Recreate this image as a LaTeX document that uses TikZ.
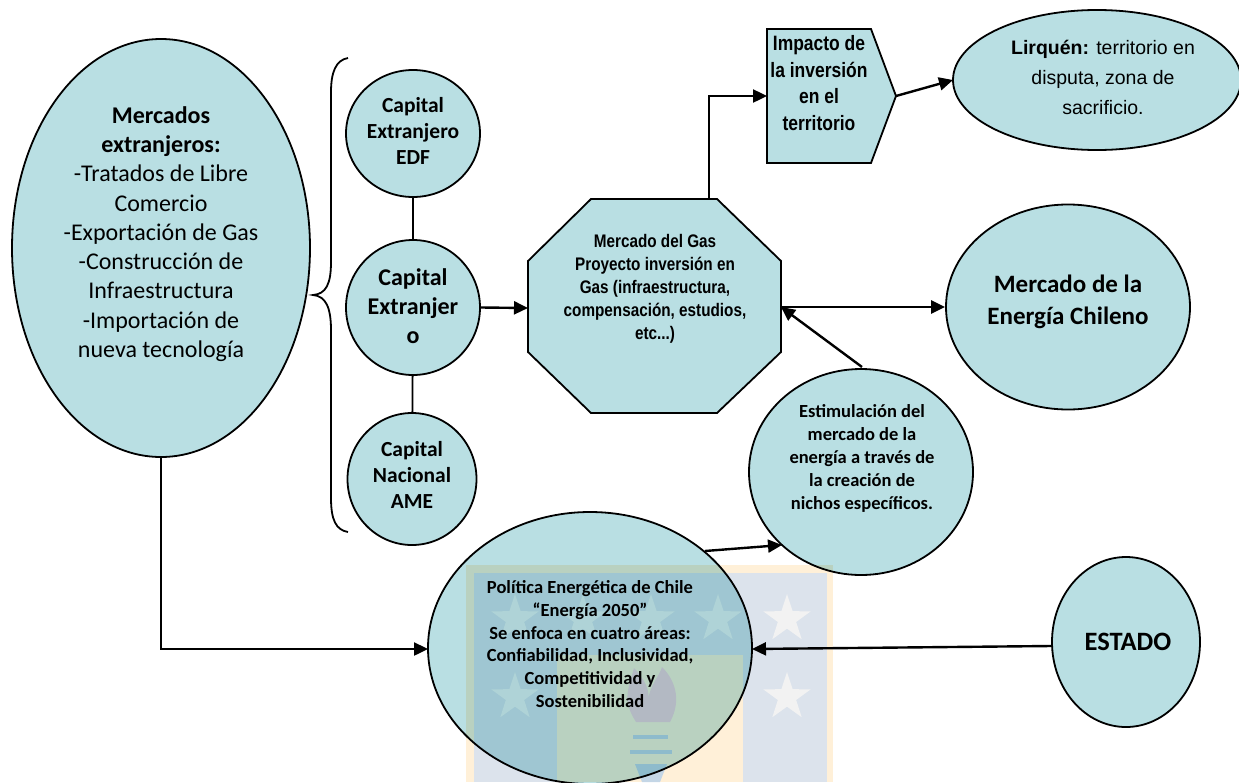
\documentclass[tikz,border=0pt]{standalone}
\usepackage{fontspec}
\usetikzlibrary{shapes.geometric,arrows.meta}
\setmainfont{Carlito}
\newfontfamily\arialn[FakeStretch=0.84]{Liberation Sans}
\newfontfamily\arialf{Liberation Sans}
\definecolor{teal}{HTML}{B9DFE3}
\definecolor{wmframe}{HTML}{FFF0D8}
\definecolor{wmblue}{HTML}{DCE3EC}
\definecolor{wmstar}{HTML}{F2F2F2}
\definecolor{wmflame}{HTML}{F8D4DC}
\definecolor{wmbar}{HTML}{C4D6E6}
\tikzset{
  shapebox/.style={draw=black,fill=teal,line width=1.8pt,ellipse,inner sep=0pt,blend mode=multiply},
  polybox/.style={draw=black,fill=teal,line width=1.8pt,line join=miter},
  txt/.style={align=center,inner sep=0pt,text=black},
  conn/.style={draw=black,line width=2.4pt,-{Triangle[length=14pt,width=13pt]}},
  plain/.style={draw=black,line width=1.8pt},
  wstar/.style={star,star points=5,star point ratio=2.6,fill=wmstar,minimum size=50pt,inner sep=0pt}
}
\newcommand{\elli}[5]{\node[shapebox,minimum width=#4pt,minimum height=#5pt] (#1) at (#2,#3) {};}
\begin{document}
\begin{tikzpicture}[x=1pt,y=-1pt]
\useasboundingbox (0,0) rectangle (1239,782);
\clip (0,0) rectangle (1239,782);
\fill[white] (0,0) rectangle (1239,782);
% watermark
\fill[wmframe] (466,565) rectangle (833,782);
\fill[wmblue] (474,573) rectangle (827,782);
\fill[wmframe] (557,655) rectangle (743,782);
\node[wstar] (s1) at (515,619) {};
\node[wstar] (s2) at (583,619) {};
\node[wstar] (s3) at (651,619) {};
\node[wstar] (s4) at (718,619) {};
\node[wstar] (s5) at (787,619) {};
\node[wstar] (s6) at (515,697) {};
\node[wstar] (s7) at (787,697) {};
\fill[wmflame] (636,722) .. controls (622,700) and (628,690) .. (634,668)
  .. controls (645,680) and (650,690) .. (648,700) .. controls (650,685) and (660,675) .. (662,667)
  .. controls (675,680) and (682,700) .. (670,722) -- cycle;
\fill[wmbar] (633,735) rectangle (668,739);
\fill[wmbar] (630,750) rectangle (672,754);
\fill[wmbar] (635,764) -- (667,764) -- (660,782) -- (642,782) -- cycle;
% shapes
\elli{merc}{161}{248}{298}{418}
\elli{edf}{413}{133.5}{134}{127}
\elli{cap}{413}{307.5}{134}{135}
\elli{ame}{412}{479}{129}{132}
\elli{lir}{1097}{80}{288}{140}
\elli{ene}{1068}{307}{244}{205}
\elli{est}{861}{472}{224}{206}
\elli{pol}{590}{648}{324}{272}
\elli{sta}{1126}{642}{148}{170}
% octagon
\coordinate (o1) at (591,199); \coordinate (o2) at (717,199);
\coordinate (o3) at (781,261); \coordinate (o4) at (781,352);
\coordinate (o5) at (717,413); \coordinate (o6) at (591,413);
\coordinate (o7) at (528,352); \coordinate (o8) at (528,261);
\coordinate (octL) at (528,308); \coordinate (octR) at (781,307);
\coordinate (octT) at (709,199); \coordinate (octA) at (651,199);
\coordinate (octE) at (781,307);
\draw[polybox] (o1)--(o2)--(o3)--(o4)--(o5)--(o6)--(o7)--(o8)--cycle;
% impact
\coordinate (i1) at (767,29); \coordinate (i2) at (871,29);
\coordinate (i3) at (896,96); \coordinate (i4) at (871,163);
\coordinate (i5) at (767,163); \coordinate (iL) at (767,96);
\draw[polybox] (i1)--(i2)--(i3)--(i4)--(i5)--cycle;
% brace
\coordinate (bt) at (348,58); \coordinate (bb) at (348,532); \coordinate (bm) at (313,295);
\draw[plain] (bt) .. controls (336,60) and (331,72) .. (331,92) -- (331,262)
  .. controls (331,284) and (326,294) .. (bm)
  .. controls (326,296) and (331,308) .. (331,330) -- (331,498)
  .. controls (331,520) and (336,530) .. (bb);
% texts
\node[txt,font=\fontsize{24}{29.3}\selectfont] (tmerc) at (161,234) {\textbf{Mercados}\\\textbf{extranjeros:}\\-Tratados de Libre\\Comercio\\-Exportación de Gas\\-Construcción de\\Infraestructura\\-Importación de\\nueva tecnología};
\node[txt,font=\fontsize{21.5}{26}\selectfont\bfseries] (tedf) at (413,131) {Capital\\Extranjero\\EDF};
\node[txt,font=\fontsize{24}{29}\selectfont\bfseries] (tcap) at (413,306) {Capital\\Extranjer\\o};
\node[txt,font=\fontsize{21.5}{26}\selectfont\bfseries] (tame) at (412,475) {Capital\\Nacional\\AME};
\node[txt,font=\arialn\fontsize{18.2}{23}\selectfont\bfseries] (toct) at (655,289) {Mercado del Gas\\Proyecto inversión en\\Gas (infraestructura,\\compensación, estudios,\\etc...)};
\node[txt,font=\arialn\fontsize{20.8}{26.7}\selectfont\bfseries] (timp) at (819,83) {Impacto de\\la inversión\\en el\\territorio};
\node[txt,font=\arialf\fontsize{19.5}{30}\selectfont] (tlir) at (1103,77) {\textbf{Lirquén:} territorio en\\disputa, zona de\\sacrificio.};
\node[txt,font=\fontsize{25}{32}\selectfont\bfseries] (tene) at (1068,301.5) {Mercado de la\\Energía Chileno};
\node[txt,font=\fontsize{18.5}{23}\selectfont\bfseries] (test) at (862,458) {Estimulación del\\mercado de la\\energía a través de\\la creación de\\nichos específicos.};
\node[txt,font=\fontsize{18.5}{22.7}\selectfont\bfseries] (tpol) at (590,644) {Política Energética de Chile\\“Energía 2050”\\Se enfoca en cuatro áreas:\\Confiabilidad, Inclusividad,\\Competitividad y\\Sostenibilidad};
\node[txt,font=\fontsize{26.5}{26}\selectfont\bfseries] (tsta) at (1128,642) {ESTADO};
% connectors
\coordinate (mb) at (161,457); \coordinate (me) at (161,649);
\coordinate (pw) at (428,649); \coordinate (pe) at (752,649);
\coordinate (se) at (1051,646);
\coordinate (es) at (862,367);
\coordinate (ps) at (705,551); \coordinate (et) at (782,545);
\coordinate (ie) at (896,96); \coordinate (le) at (953,80);
\draw[plain] (edf) -- (cap);
\draw[plain] (cap) -- (ame);
\draw[conn] (cap.east) -- (octL);
\draw[conn] (mb) -- (me) -- (pw);
\draw[conn] (se) -- (pe);
\draw[conn] (octR) -- (ene.west);
\draw[conn] (es) -- (octE);
\draw[conn] (ps) -- (et);
\draw[conn] (octT) -- (709,96) -- (iL);
\draw[conn] (ie) -- (le);
\draw[draw=black,line width=2.6pt] (octA) -- (octT);
\end{tikzpicture}
\end{document}
